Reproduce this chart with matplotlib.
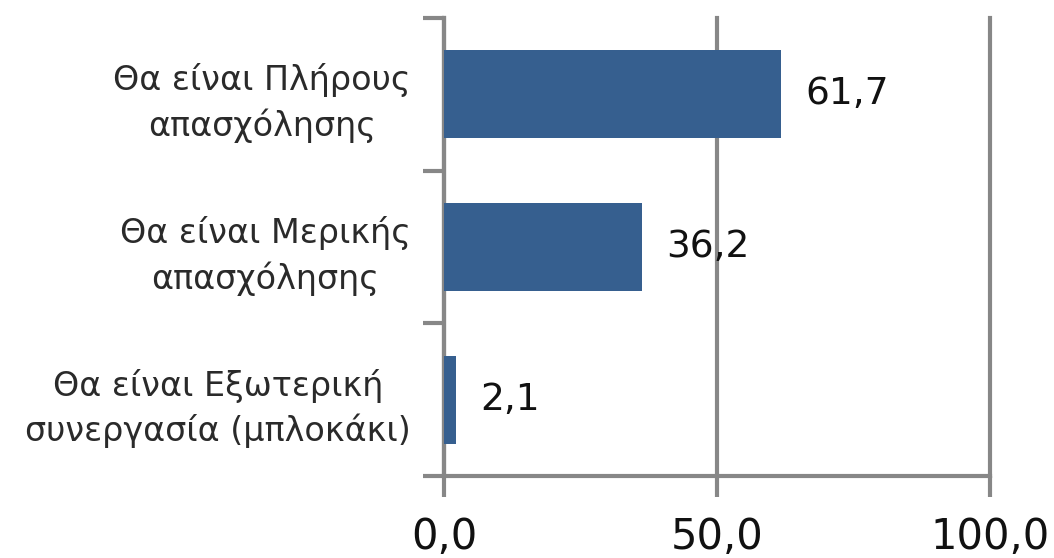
import matplotlib.pyplot as plt
import numpy as np

categories = ['Θα είναι Πλήρους\nαπασχόλησης',
              'Θα είναι Μερικής\nαπασχόλησης',
              'Θα είναι Εξωτερική\nσυνεργασία (μπλοκάκι)']
values = [61.7, 36.2, 2.1]
value_labels = ['61,7', '36,2', '2,1']
xticks = [0, 50, 100]
xtick_labels = ['0,0', '50,0', '100,0']

plt.rcParams['font.family'] = ['DejaVu Sans']
gray = '#878787'

fig = plt.figure(figsize=(10.54, 5.58), dpi=100)
ax = fig.add_axes([0.4213, 0.147, 0.518, 0.821])

y = np.arange(len(categories))
ax.barh(y, values, height=0.575, color='#365F8F', zorder=3)
for yi, v, lab in zip(y, values, value_labels):
    ax.text(v + 4.5, yi, lab, va='center', ha='left', fontsize=27, color='#111111')

ax.set_ylim(len(categories) - 0.5, -0.5)
ax.set_xlim(0, 100)

ax.set_yticks(y)
ax.set_yticklabels(categories, fontsize=24, color='#2a2a2a',
                   multialignment='center', linespacing=1.4)
ax.set_yticks(np.arange(len(categories) + 1) - 0.5, minor=True)
ax.tick_params(axis='y', which='major', length=0, pad=24)
ax.tick_params(axis='y', which='minor', length=15, width=3, color=gray)

ax.set_xticks(xticks)
ax.set_xticklabels(xtick_labels, fontsize=30, color='#111111')
ax.tick_params(axis='x', length=15, width=3, color=gray, pad=14)

ax.grid(axis='x', color=gray, linewidth=3, zorder=0)
for gl in ax.get_xgridlines():
    gl.set_clip_on(False)
for side in ['top', 'right']:
    ax.spines[side].set_visible(False)
for side in ['left', 'bottom']:
    ax.spines[side].set_color(gray)
    ax.spines[side].set_linewidth(3)

fig.savefig('out.png', dpi=100)
